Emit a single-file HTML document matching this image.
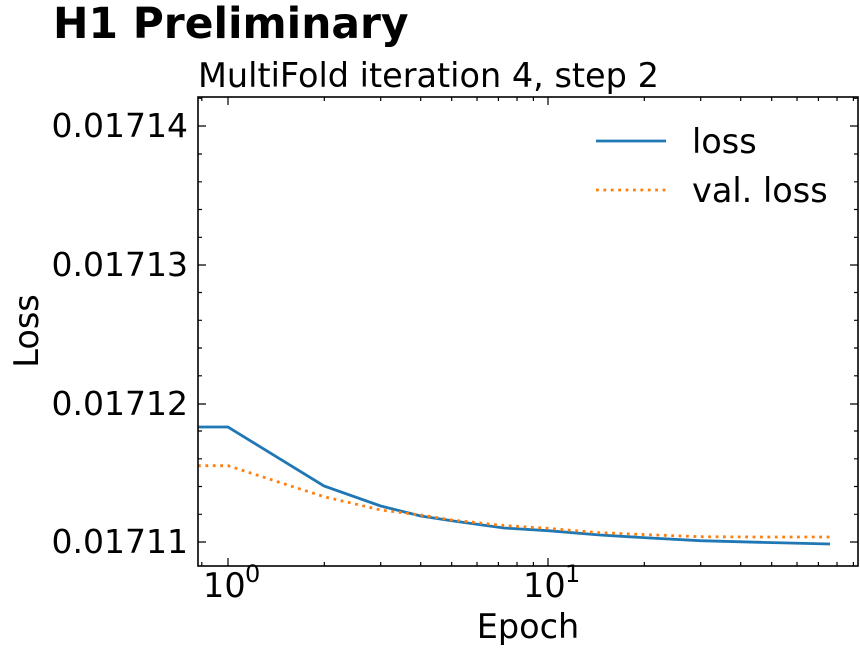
<!DOCTYPE html>
<html><head><style>
body{margin:0;background:#fff;}
svg{display:block;font-family:"DejaVu Sans","Liberation Sans",sans-serif;}
</style></head><body>
<svg width="860" height="658" viewBox="0 0 860 658" xmlns="http://www.w3.org/2000/svg">
<rect width="860" height="658" fill="#fff"/>
<text x="53" y="38" font-size="42.4" font-weight="bold">H1 Preliminary</text>
<text x="198" y="87" font-size="33.5">MultiFold iteration 4, step 2</text>
<defs><clipPath id="c"><rect x="198" y="97" width="660" height="469"/></clipPath></defs>
<g clip-path="url(#c)" fill="none">
<polyline stroke="#1f77b4" stroke-width="2.8" points="198,427 228,427 324,486 380.7,506 420.7,516 451.7,520.7 504,528 548,530.7 600,535 650,538 700,540.7 760,542.3 830,544"/>
<polyline stroke="#ff7f0e" stroke-width="2.8" stroke-dasharray="2.8,4.6" points="198,465.7 228,465.7 324,496.7 380.7,510 420.7,515 451.7,520 504,525.5 548,528.3 600,532.7 650,534.8 700,536.7 760,537 830,537"/>
</g>
<rect x="198" y="97" width="660" height="469" fill="none" stroke="#000" stroke-width="1.6"/>
<g font-size="33" text-anchor="end">
<text x="188" y="553">0.01711</text>
<text x="188" y="415">0.01712</text>
<text x="188" y="276">0.01713</text>
<text x="188" y="137">0.01714</text>
</g>
<text x="203" y="597" font-size="33.5">10</text><text x="245" y="582" font-size="24">0</text>
<text x="523" y="597" font-size="33.5">10</text><text x="565" y="582" font-size="24">1</text>
<text x="528" y="638" font-size="33.5" text-anchor="middle">Epoch</text>
<text transform="translate(38,331) rotate(-90)" font-size="33.5" text-anchor="middle">Loss</text>
<line x1="596" y1="141" x2="666" y2="141" stroke="#1f77b4" stroke-width="2.8"/>
<line x1="596" y1="190" x2="666" y2="190" stroke="#ff7f0e" stroke-width="2.8" stroke-dasharray="2.8,4.6"/>
<text x="692" y="153" font-size="33.5">loss</text>
<text x="692" y="202" font-size="33.5">val. loss</text>
<g stroke="#000" stroke-width="1.2">
<path d="M198,542h8M198,404h8M198,265h8M198,126h8M858,542h-8M858,404h-8M858,265h-8M858,126h-8"/>
<path d="M198,514.3h4M198,486.5h4M198,458.8h4M198,431h4M198,375.8h4M198,348h4M198,320.3h4M198,292.5h4M198,237.3h4M198,209.5h4M198,181.8h4M198,154h4M198,98.3h4
M858,514.3h-4M858,486.5h-4M858,458.8h-4M858,431h-4M858,375.8h-4M858,348h-4M858,320.3h-4M858,292.5h-4M858,237.3h-4M858,209.5h-4M858,181.8h-4M858,154h-4M858,98.3h-4"/>
<path d="M228,566v-8M548,566v-8M228,97v8M548,97v8"/>
<path d="M201.8,566v-4M324.3,566v-4M380.7,566v-4M420.7,566v-4M451.7,566v-4M477.0,566v-4M498.4,566v-4M517.0,566v-4M533.4,566v-4M644.3,566v-4M700.7,566v-4M740.7,566v-4M771.7,566v-4M797.0,566v-4M818.4,566v-4M837.0,566v-4M853.4,566v-4
M201.8,97v4M324.3,97v4M380.7,97v4M420.7,97v4M451.7,97v4M477.0,97v4M498.4,97v4M517.0,97v4M533.4,97v4M644.3,97v4M700.7,97v4M740.7,97v4M771.7,97v4M797.0,97v4M818.4,97v4M837.0,97v4M853.4,97v4"/>
</g>
</svg>
</body></html>
